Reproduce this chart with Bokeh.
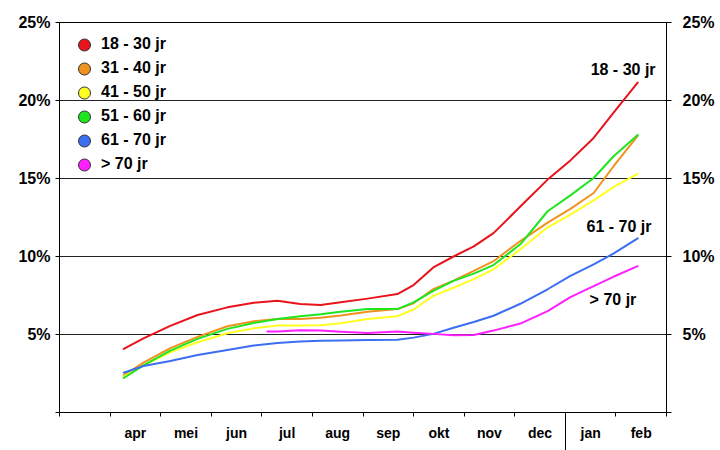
from bokeh.plotting import figure
from bokeh.models import (FixedTicker, LinearAxis, Legend, LegendItem, Label,
                          PrintfTickFormatter, Range1d, Grid)
from bokeh.embed import file_html
from bokeh.resources import INLINE

# ---------------- data ----------------
months = ["", "apr", "mei", "jun", "jul", "aug", "sep", "okt", "nov", "dec", "jan", "feb"]
year_break = "jan"
y_ticks = [0, 5, 10, 15, 20, 25]
grid_ticks = [5, 10, 15]
grid_ticks_short = [20]

# x positions in month-slot units (slot i spans i..i+1)
x_pos = [1.27, 1.66, 2.19, 2.73, 3.32, 3.84, 4.31, 4.76, 5.16, 5.56, 6.09, 6.68,
         7.00, 7.39, 7.79, 8.19, 8.58, 9.11, 9.65, 10.10, 10.56, 10.95, 11.43]

s_18_30 = [4.08, 4.75, 5.55, 6.25, 6.74, 7.04, 7.16, 6.95, 6.89, 7.06, 7.30, 7.59,
           8.17, 9.30, 10.0, 10.65, 11.5, 13.2, 14.93, 16.16, 17.6, 19.2, 21.15]
s_31_40 = [2.38, 3.2, 4.13, 4.85, 5.53, 5.85, 5.99, 6.0, 6.08, 6.22, 6.46, 6.63,
           7.0, 7.91, 8.45, 9.08, 9.7, 10.99, 12.17, 13.05, 14.07, 15.77, 17.73]
s_41_50 = [2.3, 3.0, 3.87, 4.5, 5.08, 5.4, 5.57, 5.57, 5.6, 5.72, 6.0, 6.17,
           6.6, 7.48, 8.0, 8.55, 9.18, 10.46, 11.87, 12.69, 13.6, 14.45, 15.29]
s_51_60 = [2.21, 3.02, 3.97, 4.72, 5.36, 5.74, 5.99, 6.17, 6.3, 6.46, 6.63, 6.63,
           7.06, 7.8, 8.44, 8.9, 9.45, 10.78, 12.9, 13.92, 15.03, 16.41, 17.79]
s_61_70 = [2.55, 2.98, 3.3, 3.68, 4.0, 4.3, 4.46, 4.55, 4.6, 4.62, 4.64, 4.66,
           4.8, 5.04, 5.43, 5.8, 6.2, 6.97, 7.9, 8.76, 9.5, 10.18, 11.16]
x_70 = [4.11, 4.31, 4.76, 5.16, 5.56, 6.09, 6.68, 7.00, 7.39, 7.79, 8.19, 8.58,
        9.11, 9.65, 10.10, 10.56, 10.95, 11.43]
s_70 = [5.19, 5.2, 5.28, 5.25, 5.18, 5.1, 5.19, 5.12, 5.04, 4.95, 4.97, 5.25,
        5.7, 6.5, 7.4, 8.1, 8.7, 9.38]

names = ["18 - 30 jr", "31 - 40 jr", "41 - 50 jr", "51 - 60 jr", "61 - 70 jr", "> 70 jr"]
colors = ["#e8131b", "#f0921e", "#ffff22", "#1ee61e", "#3b6ef0", "#ff1fff"]
xs = [x_pos, x_pos, x_pos, x_pos, x_pos, x_70]
ys = [s_18_30, s_31_40, s_41_50, s_51_60, s_61_70, s_70]

# direct labels (name, x, y)
direct_labels = [("18 - 30 jr", 10.50, 22.0), ("61 - 70 jr", 10.42, 11.93), ("> 70 jr", 10.48, 7.27)]

# the 20% gridline stops where the legend block ends
legend_edge = 2.65

FONT = "Liberation Sans"
NAN = float("nan")

# ---------------- figure ----------------
p = figure(width=720, height=450, x_range=Range1d(0, len(months)), y_range=Range1d(0, 25),
           output_backend="svg", toolbar_location=None, x_axis_location=None,
           min_border_left=59, min_border_right=54, min_border_top=22, min_border_bottom=36)
p.background_fill_color = "white"
p.border_fill_color = "white"
p.outline_line_color = "black"
p.outline_line_width = 1
p.xgrid.visible = False
p.ygrid.ticker = FixedTicker(ticks=grid_ticks)
p.ygrid.grid_line_color = "#222222"
p.ygrid.grid_line_width = 1
short_grid = Grid(dimension=1, ticker=FixedTicker(ticks=grid_ticks_short),
                  bounds=(legend_edge, len(months)),
                  grid_line_color="#222222", grid_line_width=1)
p.add_layout(short_grid)


def style_y(ax, out, standoff):
    ax.ticker = FixedTicker(ticks=y_ticks)
    ax.formatter = PrintfTickFormatter(format="%d%%")
    ax.major_label_overrides = {0: ""}
    ax.major_tick_out = out
    ax.major_tick_in = 0
    ax.minor_tick_line_color = None
    ax.axis_line_color = "black"
    ax.major_tick_line_color = "black"
    ax.major_label_standoff = standoff
    ax.major_label_text_font = FONT
    ax.major_label_text_font_style = "bold"
    ax.major_label_text_font_size = "16px"
    ax.major_label_text_color = "black"


style_y(p.yaxis[0], 4, 5)
raxis = LinearAxis()
style_y(raxis, 5, 11)
p.add_layout(raxis, "right")

# month axis (closest to the frame)
centers = [i + 0.5 for i in range(len(months))]
xa = LinearAxis(ticker=FixedTicker(ticks=centers, minor_ticks=list(range(len(months) + 1))),
                major_label_overrides={c: m for c, m in zip(centers, months)},
                major_tick_out=0, major_tick_in=0, major_tick_line_color=None,
                minor_tick_out=4, minor_tick_in=0, minor_tick_line_color="black",
                axis_line_color=None, major_label_standoff=8,
                major_label_text_font=FONT, major_label_text_font_style="bold",
                major_label_text_font_size="14px", major_label_text_color="black")
p.add_layout(xa, "below")

# separator tick between years, reaching up to the frame
sep = LinearAxis(ticker=FixedTicker(ticks=[], minor_ticks=[months.index(year_break)]),
                 axis_line_color=None, major_tick_line_color=None,
                 major_label_text_font_size="0px", major_label_standoff=0,
                 major_tick_out=0, major_tick_in=0, minor_tick_in=29, minor_tick_out=7,
                 minor_tick_line_color="black")
p.add_layout(sep, "below")

# lines + legend proxies (circles that are never placed in the plot area)
proxies = []
for x, y, c in zip(xs, ys, colors):
    p.line(x, y, line_color=c, line_width=2, line_join="round", line_cap="round")
    r = p.ellipse(x=[NAN], y=[NAN], width=12, height=12, width_units="screen",
                  height_units="screen", fill_color=c, line_color="#333333", line_width=1)
    proxies.append(r)

items = [LegendItem(label=n, renderers=[r]) for n, r in zip(names, proxies)]
legend = Legend(items=items, location="top_left", margin=10, padding=6,
                glyph_width=30, glyph_height=15, label_height=24, spacing=0,
                label_standoff=2, label_width=80,
                label_text_font=FONT, label_text_font_style="bold",
                label_text_font_size="16px", label_text_color="black",
                border_line_color=None, background_fill_alpha=0.0,
                click_policy="none")
p.add_layout(legend)

for t, x, y in direct_labels:
    p.add_layout(Label(x=x, y=y, text=t, text_font=FONT, text_font_style="bold",
                       text_font_size="16px", text_color="black",
                       text_baseline="middle", text_align="left"))

open("out.html", "w").write(file_html(p, INLINE))
